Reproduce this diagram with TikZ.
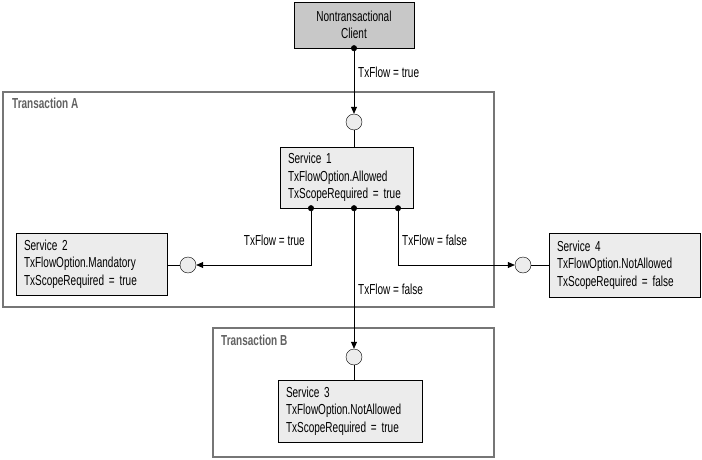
\documentclass[tikz,border=0pt]{standalone}
\usepackage{fontspec}
\setmainfont{Liberation Sans}[FakeStretch=0.69]
\usetikzlibrary{arrows.meta,positioning,calc}

\definecolor{frameGray}{RGB}{118,118,118}
\definecolor{boxFill}{RGB}{236,236,236}
\definecolor{clientFill}{RGB}{200,200,200}

\begin{document}
\begin{tikzpicture}[
    x=1pt, y=1pt,
    font=\fontsize{14.5}{17.5}\selectfont,
    svc/.style={draw, fill=boxFill, align=left, inner sep=0pt, inner xsep=8pt},
    client/.style={draw, fill=clientFill, align=center, inner sep=0pt},
    txframe/.style={draw=frameGray, line width=1.6pt, inner sep=0pt},
    txlabel/.style={font=\fontsize{14.5}{16}\selectfont\bfseries, text=black!62, anchor=north west, inner sep=0pt},
    port/.style={circle, draw, fill=boxFill, minimum size=16pt, inner sep=0pt},
    lbl/.style={inner sep=0pt},
    flow/.style={{Circle[length=6pt]}-{Triangle[length=7pt,width=6pt]}, shorten <=-3pt, line width=0.7pt},
    link/.style={line width=0.7pt}
  ]
  \useasboundingbox (0,0) rectangle (702,-460);

  % ---------- frames -------------------------------------------------------
  \node[txframe, minimum width=491pt, minimum height=215pt] (txA) at (248.5,-199.5) {};
  \node[txlabel] (txAlbl) at (12,-98) {Transaction A};
  \node[txframe, minimum width=281pt, minimum height=129pt] (txB) at (353.5,-392.5) {};
  \node[txlabel] (txBlbl) at (221,-335) {Transaction B};

  % ---------- services -----------------------------------------------------
  \node[client, minimum width=120pt, minimum height=46pt] (cli) at (354,-25)
        {Nontransactional\\Client};
  \node[svc, text width=117pt, minimum height=61pt] (svc1) at (346.5,-177.5)
        {Service 1\\TxFlowOption.Allowed\\TxScopeRequired = true};
  \node[svc, text width=135pt, minimum height=62pt] (svc2) at (91.5,-264)
        {Service 2\\TxFlowOption.Mandatory\\TxScopeRequired = true};
  \node[svc, text width=128pt, minimum height=62pt] (svc3) at (350,-411)
        {Service 3\\TxFlowOption.NotAllowed\\TxScopeRequired = true};
  \node[svc, text width=135pt, minimum height=64pt] (svc4) at (624.5,-265)
        {Service 4\\TxFlowOption.NotAllowed\\TxScopeRequired = false};

  % ---------- ports --------------------------------------------------------
  \node[port] (pA) at (354,-122) {};
  \node[port] (p2) at (188,-265) {};
  \node[port] (pB) at (354,-357) {};
  \node[port] (p4) at (523,-265) {};

  \draw[link] (pA) -- (pA |- svc1.north);
  \draw[link] (p2) -- (p2 -| svc2.east);
  \draw[link] (pB) -- (pB |- svc3.north);
  \draw[link] (p4) -- (p4 -| svc4.west);

  % ---------- flows --------------------------------------------------------
  \draw[flow] (cli.south -| pA) -- (pA);
  \draw[flow] ([xshift=-35.5pt]svc1.south) |- (p2);
  \draw[flow] (svc1.south -| pB) -- (pB);
  \draw[flow] ([xshift=51.5pt]svc1.south) |- (p4);

  \node[lbl, anchor=west] (f0) at (358,-72) {TxFlow = true};
  \node[lbl, anchor=east] (f2) at (305,-240) {TxFlow = true};
  \node[lbl, anchor=west] (f4) at (402,-240) {TxFlow = false};
  \node[lbl, anchor=west] (f3) at (358,-289) {TxFlow = false};

\end{tikzpicture}
\end{document}
